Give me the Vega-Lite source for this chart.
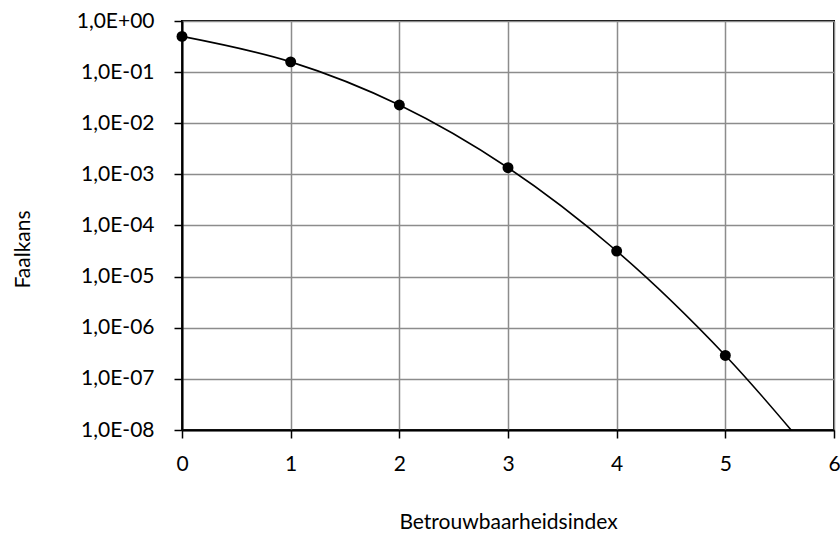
{
  "$schema": "https://vega.github.io/schema/vega-lite/v6.json",
  "autosize": {"type": "none"},
  "width": 652,
  "height": 409,
  "padding": {"left": 182, "top": 21, "right": 6, "bottom": 106},
  "background": "#ffffff",
  "config": {
    "font": "Lato",
    "view": {"stroke": "#000000", "strokeWidth": 2},
    "axis": {
      "labelFont": "Lato",
      "titleFont": "Lato",
      "labelFontSize": 21,
      "titleFontSize": 21,
      "labelColor": "#000000",
      "titleColor": "#000000",
      "titleFontWeight": "normal",
      "domainColor": "#000000",
      "domainWidth": 2,
      "tickColor": "#000000",
      "tickWidth": 1.5,
      "tickSize": 8,
      "gridColor": "#8c8c8c",
      "gridWidth": 1.5,
      "gridOpacity": 1,
      "labelFlush": false,
      "labelOverlap": false
    }
  },
  "datasets": {
    "curve": [
      {"beta": 0, "p": 0.5},
      {"beta": 1, "p": 0.1587},
      {"beta": 2, "p": 0.02275},
      {"beta": 3, "p": 0.00135},
      {"beta": 4, "p": 3.17e-5},
      {"beta": 5, "p": 2.87e-7},
      {"beta": 6, "p": 9.87e-10}
    ],
    "points": [
      {"beta": 0, "p": 0.5},
      {"beta": 1, "p": 0.1587},
      {"beta": 2, "p": 0.02275},
      {"beta": 3, "p": 0.00135},
      {"beta": 4, "p": 3.17e-5},
      {"beta": 5, "p": 2.87e-7}
    ]
  },
  "encoding": {
    "x": {
      "field": "beta",
      "type": "quantitative",
      "scale": {"domain": [0, 6], "nice": false},
      "axis": {
        "title": "Betrouwbaarheidsindex",
        "values": [0, 1, 2, 3, 4, 5, 6],
        "labelPadding": 15,
        "titleY": 92,
        "titleBaseline": "middle"
      }
    },
    "y": {
      "field": "p",
      "type": "quantitative",
      "scale": {"type": "log", "domain": [1e-8, 1], "nice": false},
      "axis": {
        "title": "Faalkans",
        "values": [1e-8, 1e-7, 1e-6, 1e-5, 1e-4, 1e-3, 1e-2, 1e-1, 1],
        "labelExpr": "'1,0E' + (datum.value >= 1 ? '+' : '-') + pad(toString(abs(round(log(datum.value) / LN10))), 2, '0', 'left')",
        "labelPadding": 20,
        "titleX": -159,
        "titleY": 228,
        "titleAngle": -90,
        "titleAlign": "center",
        "titleBaseline": "middle"
      }
    }
  },
  "layer": [
    {
      "data": {"name": "curve"},
      "mark": {"type": "line", "color": "#000000", "strokeWidth": 1.6, "interpolate": "catmull-rom", "clip": true}
    },
    {
      "data": {"name": "points"},
      "mark": {"type": "point", "filled": true, "color": "#000000", "opacity": 1, "size": 120}
    }
  ]
}
